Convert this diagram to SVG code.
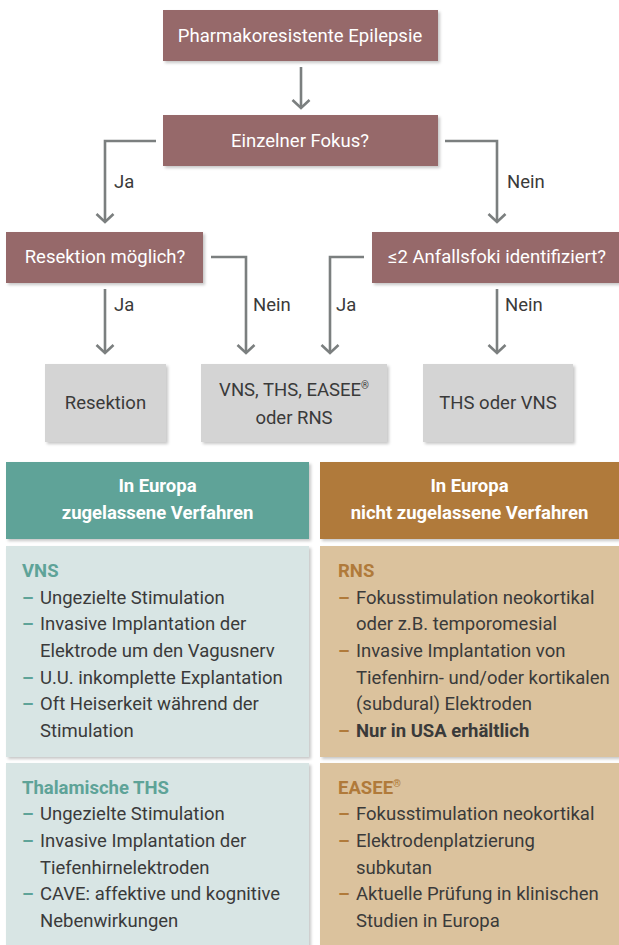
<svg xmlns="http://www.w3.org/2000/svg" width="619" height="945" viewBox="0 0 619 945">
<defs>
<filter id="sh" x="-10%" y="-10%" width="130%" height="140%">
<feDropShadow dx="2" dy="2" stdDeviation="1.6" flood-color="#000" flood-opacity="0.22"/>
</filter>
<marker id="arr" markerUnits="userSpaceOnUse" markerWidth="14" markerHeight="22" viewBox="-11 -11 14 22" refX="0" refY="0" orient="auto">
<path d="M-8,-8.5 L0,0 L-8,8.5" fill="none" stroke="#7b7f7f" stroke-width="2.6"/>
</marker>
</defs>
<style>
text{font-family:Roboto,"Liberation Sans",sans-serif;font-size:18.5px}
.q rect{fill:#96696b;filter:url(#sh)}
.q text{fill:#fff;text-anchor:middle}
.r rect{fill:#d4d4d4;filter:url(#sh)}
.r text{fill:#3a3a3a;text-anchor:middle}
.conn path{fill:none;stroke:#7b7f7f;stroke-width:2.6;marker-end:url(#arr)}
.lbl{fill:#3a3a3a}
.hd text{fill:#fff;font-weight:bold;text-anchor:middle}
.t{fill:#5ea398;font-weight:bold}
.o{fill:#b07a3a;font-weight:bold}
.b{fill:#3a3a3a}
.dt{fill:#5ea398;font-weight:bold}
.do{fill:#b07a3a;font-weight:bold}
</style>
<rect width="619" height="945" fill="#fff"/>

<g id="n-start" class="q"><rect x="163" y="10" width="275" height="51"/><text x="300" y="42">Pharmakoresistente Epilepsie</text></g>
<g id="n-fokus" class="q"><rect x="163" y="115" width="275" height="51"/><text x="300" y="147">Einzelner Fokus?</text></g>
<g id="n-resm" class="q"><rect x="6" y="232" width="197" height="51"/><text x="105" y="263">Resektion möglich?</text></g>
<g id="n-foki" class="q"><rect x="372" y="232" width="247" height="51"/><text x="497" y="263">≤2 Anfallsfoki identifiziert?</text></g>
<g id="n-res" class="r"><rect x="45" y="364" width="121" height="78"/><text x="105.5" y="409">Resektion</text></g>
<g id="n-vns" class="r"><rect x="201" y="364" width="186" height="78"/><text x="294" y="396">VNS, THS, EASEE<tspan font-size="10" dy="-7">®</tspan></text><text x="294" y="424">oder RNS</text></g>
<g id="n-ths" class="r"><rect x="423" y="364" width="150" height="78"/><text x="498" y="409">THS oder VNS</text></g>

<g id="connectors" class="conn">
<path d="M301,67 V108"/>
<path d="M156,141 H105 V222"/>
<path d="M445,141 H497 V222"/>
<path d="M105,289 V353"/>
<path d="M211,257 H246 V353"/>
<path d="M364,257 H330 V353"/>
<path d="M497,289 V353"/>
</g>
<g id="labels" class="lbl">
<text x="114" y="188">Ja</text>
<text x="507" y="188">Nein</text>
<text x="114" y="311">Ja</text>
<text x="253" y="311">Nein</text>
<text x="336" y="311">Ja</text>
<text x="505" y="311">Nein</text>
</g>

<g id="h-eu" class="hd"><rect x="6" y="462" width="303" height="77" fill="#5ea398" filter="url(#sh)"/><text x="157.5" y="492">In Europa</text><text x="157.5" y="519">zugelassene Verfahren</text></g>
<g id="h-neu" class="hd"><rect x="320" y="462" width="299" height="77" fill="#b07a3a" filter="url(#sh)"/><text x="469.5" y="492">In Europa</text><text x="469.5" y="519">nicht zugelassene Verfahren</text></g>

<g id="c-vns">
<rect x="6" y="546" width="303" height="211" fill="#d8e5e4" filter="url(#sh)"/>
<text x="22" y="577" class="t">VNS</text>
<text x="22" y="604" class="dt">–</text><text x="40" y="604" class="b">Ungezielte Stimulation</text>
<text x="22" y="630" class="dt">–</text><text x="40" y="630" class="b">Invasive Implantation der</text>
<text x="40" y="657" class="b">Elektrode um den Vagusnerv</text>
<text x="22" y="684" class="dt">–</text><text x="40" y="684" class="b">U.U. inkomplette Explantation</text>
<text x="22" y="710" class="dt">–</text><text x="40" y="710" class="b">Oft Heiserkeit während der</text>
<text x="40" y="737" class="b">Stimulation</text>
</g>
<g id="c-rns">
<rect x="320" y="546" width="299" height="211" fill="#dbc29d" filter="url(#sh)"/>
<text x="338" y="577" class="o">RNS</text>
<text x="338" y="604" class="do">–</text><text x="356" y="604" class="b">Fokusstimulation neokortikal</text>
<text x="356" y="630" class="b">oder z.B. temporomesial</text>
<text x="338" y="657" class="do">–</text><text x="356" y="657" class="b">Invasive Implantation von</text>
<text x="356" y="684" class="b">Tiefenhirn- und/oder kortikalen</text>
<text x="356" y="710" class="b">(subdural) Elektroden</text>
<text x="338" y="737" class="do">–</text><text x="356" y="737" class="b" font-weight="bold">Nur in USA erhältlich</text>
</g>
<g id="c-ths">
<rect x="6" y="763" width="303" height="190" fill="#d8e5e4" filter="url(#sh)"/>
<text x="22" y="794" class="t">Thalamische THS</text>
<text x="22" y="820" class="dt">–</text><text x="40" y="820" class="b">Ungezielte Stimulation</text>
<text x="22" y="847" class="dt">–</text><text x="40" y="847" class="b">Invasive Implantation der</text>
<text x="40" y="874" class="b">Tiefenhirnelektroden</text>
<text x="22" y="900" class="dt">–</text><text x="40" y="900" class="b">CAVE: affektive und kognitive</text>
<text x="40" y="927" class="b">Nebenwirkungen</text>
</g>
<g id="c-easee">
<rect x="320" y="763" width="299" height="190" fill="#dbc29d" filter="url(#sh)"/>
<text x="338" y="794" class="o">EASEE<tspan font-size="10" dy="-7">®</tspan></text>
<text x="338" y="820" class="do">–</text><text x="356" y="820" class="b">Fokusstimulation neokortikal</text>
<text x="338" y="847" class="do">–</text><text x="356" y="847" class="b">Elektrodenplatzierung</text>
<text x="356" y="874" class="b">subkutan</text>
<text x="338" y="900" class="do">–</text><text x="356" y="900" class="b">Aktuelle Prüfung in klinischen</text>
<text x="356" y="927" class="b">Studien in Europa</text>
</g>
</svg>
